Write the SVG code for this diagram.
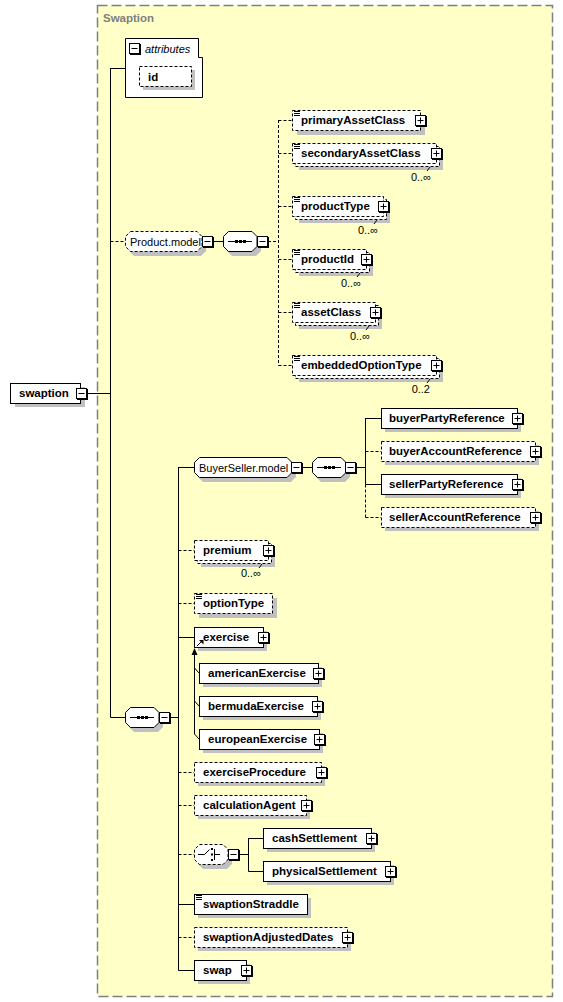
<svg xmlns="http://www.w3.org/2000/svg" width="563" height="1002" viewBox="0 0 563 1002">
<style>
.t{font-family:"Liberation Sans",Arial,sans-serif;font-size:11.5px;font-weight:bold;fill:#000}
.n{font-family:"Liberation Sans",Arial,sans-serif;font-size:11px;fill:#000}
.i{font-family:"Liberation Sans",Arial,sans-serif;font-size:11px;font-style:italic;fill:#000}
.title{font-family:"Liberation Sans",Arial,sans-serif;font-size:11.5px;font-weight:bold;fill:#808080}
.sh{fill:#C0C0C0}
.box{fill:#fff;stroke:#000;stroke-width:1}
.dash{stroke-dasharray:3,2}
.c{fill:none;stroke:#000;stroke-width:1}
.cd{fill:none;stroke:#000;stroke-width:1;stroke-dasharray:3,2}
</style>
<defs>
<g id="pb"><rect x="1" y="1" width="11" height="11" fill="#000"/><rect x="0.5" y="0.5" width="10" height="10" fill="#fff" stroke="#000"/><path d="M2.5,5.5H8.5M5.5,2.5V8.5" stroke="#000"/></g>
<g id="mb"><rect x="1" y="1" width="11" height="11" fill="#000"/><rect x="0.5" y="0.5" width="10" height="10" fill="#fff" stroke="#000"/><path d="M2.5,5.5H8.5" stroke="#000"/></g>
<path id="ln" d="M0,0.5H6M0,2.5H6M0,4.5H6" stroke="#000" fill="none"/>
</defs>

<rect x="97.5" y="5.5" width="455" height="991" fill="#FFFFC8" stroke="#808080" stroke-width="1.5" stroke-dasharray="10,4"/>
<text class="title" x="103" y="22">Swaption</text>

<g id="connectors">
<path class="c" d="M88,393.5H110.5M110.5,68V717.5M110.5,68.5H125M110.5,717.5H125"/>
<path class="cd" d="M110.5,241.5H125"/>
<path class="c" d="M213,241.5H223"/>
<path class="cd" d="M268,241.5H278.5M278.5,120V365.5M278.5,120.5H292M278.5,153.5H292M278.5,206.5H292M278.5,259.5H292M278.5,312.5H292M278.5,365.5H292"/>
<path class="c" d="M170,717.5H178.5M178.5,467V970.5M178.5,467.5H194M178.5,637.5H194M178.5,904.5H194M178.5,970.5H194"/>
<path class="cd" d="M178.5,550.5H194M178.5,603.5H194M178.5,772.5H194M178.5,805.5H194M178.5,854.5H194M178.5,937.5H194"/>
<path class="c" d="M302,467.5H312M356,467.5H365.5M365.5,418V484.5M365.5,418.5H381M365.5,484.5H381"/>
<path class="cd" d="M365.5,484.5V517.5M365.5,451.5H381M365.5,517.5H381"/>
<path class="c" d="M194.5,652V734L199,739M194.5,668L199,673M194.5,701L199,706"/>
<polygon points="191.5,655 197.5,655 194.5,648" fill="#000"/>
<path class="c" d="M239,854.5H248.5M248.5,838V871.5M248.5,838.5H263M248.5,871.5H263"/>
</g>

<g id="swaption">
<rect class="sh" x="15" y="387" width="70" height="20"/>
<rect class="box" x="10.5" y="383.5" width="70" height="20"/>
<text class="t" x="19" y="397">swaption</text>
<use href="#mb" x="76" y="388"/>
</g>

<g id="attributes">
<path d="M125.5,38.5H198.5V57.5H202.5V97.5H125.5Z" fill="#fff" stroke="#000"/>
<use href="#mb" x="129" y="43"/>
<text class="i" x="145" y="53">attributes</text>
<rect class="sh" x="143" y="70" width="52" height="20"/>
<rect class="box dash" x="139.5" y="66.5" width="52" height="20"/>
<text class="t" x="148" y="81">id</text>
</g>

<g id="product-model">
<path d="M134,240 H201 L206,245 V251 L201,256 H134 L129,251 V245 Z" class="sh"/>
<path d="M130.5,231.5 H197 L202,236.5 V246.5 L197,251.5 H130.5 L125.5,246.5 V236.5 Z" class="box dash"/>
<text class="n" x="130" y="246">Product.model</text>
<use href="#mb" x="202" y="236"/>
</g>
<g id="product-seq">
<path d="M232,240 H256 L261,245 V251 L256,256 H232 L227,251 V245 Z" class="sh"/>
<path d="M228.5,231.5 H252 L257,236.5 V246.5 L252,251.5 H228.5 L223.5,246.5 V236.5 Z" class="box"/>
<path d="M228,241.5H252" stroke="#000"/>
<rect x="235" y="240" width="3" height="3"/><rect x="239" y="240" width="3" height="3"/><rect x="243" y="240" width="3" height="3"/>
<use href="#mb" x="257" y="236"/>
</g>

<g id="primaryAssetClass">
<rect class="sh" x="297" y="115" width="128" height="20"/>
<rect class="box dash" x="292.5" y="110.5" width="128" height="20"/>
<use href="#ln" x="294" y="111"/>
<text class="t" x="301" y="124">primaryAssetClass</text>
<use href="#pb" x="415" y="115"/>
</g>
<g id="secondaryAssetClass">
<rect class="sh" x="299" y="150" width="144" height="20"/>
<rect class="box dash" x="295.5" y="146.5" width="144" height="20"/>
<rect class="box dash" x="292.5" y="143.5" width="144" height="20"/>
<use href="#ln" x="294" y="144"/>
<text class="t" x="301" y="157">secondaryAssetClass</text>
<use href="#pb" x="431" y="148"/>
<path d="M430,167L427,171" stroke="#000"/>
<text class="n" x="431" y="181" text-anchor="end">0..∞</text>
</g>
<g id="productType">
<rect class="sh" x="299" y="203" width="91" height="20"/>
<rect class="box dash" x="295.5" y="199.5" width="91" height="20"/>
<rect class="box dash" x="292.5" y="196.5" width="91" height="20"/>
<use href="#ln" x="294" y="197"/>
<text class="t" x="301" y="210">productType</text>
<use href="#pb" x="378" y="201"/>
<path d="M377,220L374,224" stroke="#000"/>
<text class="n" x="378" y="234" text-anchor="end">0..∞</text>
</g>
<g id="productId">
<rect class="sh" x="299" y="256" width="74" height="20"/>
<rect class="box dash" x="295.5" y="252.5" width="74" height="20"/>
<rect class="box dash" x="292.5" y="249.5" width="74" height="20"/>
<use href="#ln" x="294" y="250"/>
<text class="t" x="301" y="263">productId</text>
<use href="#pb" x="361" y="254"/>
<path d="M360,273L357,277" stroke="#000"/>
<text class="n" x="361" y="287" text-anchor="end">0..∞</text>
</g>
<g id="assetClass">
<rect class="sh" x="299" y="309" width="83" height="20"/>
<rect class="box dash" x="295.5" y="305.5" width="83" height="20"/>
<rect class="box dash" x="292.5" y="302.5" width="83" height="20"/>
<use href="#ln" x="294" y="303"/>
<text class="t" x="301" y="316">assetClass</text>
<use href="#pb" x="370" y="307"/>
<path d="M369,326L366,330" stroke="#000"/>
<text class="n" x="370" y="340" text-anchor="end">0..∞</text>
</g>
<g id="embeddedOptionType">
<rect class="sh" x="299" y="362" width="144" height="20"/>
<rect class="box dash" x="295.5" y="358.5" width="144" height="20"/>
<rect class="box dash" x="292.5" y="355.5" width="144" height="20"/>
<use href="#ln" x="294" y="356"/>
<text class="t" x="301" y="369">embeddedOptionType</text>
<use href="#pb" x="431" y="360"/>
<path d="M430,379L427,383" stroke="#000"/>
<text class="n" x="430" y="393" text-anchor="end">0..2</text>
</g>

<g id="buyerseller-model">
<path d="M203,466 H291 L296,471 V477 L291,482 H203 L198,477 V471 Z" class="sh"/>
<path d="M199.5,457.5 H287 L292,462.5 V472.5 L287,477.5 H199.5 L194.5,472.5 V462.5 Z" class="box"/>
<text class="n" x="199" y="472">BuyerSeller.model</text>
<use href="#mb" x="291" y="462"/>
</g>
<g id="buyerseller-seq">
<path d="M321,466 H345 L350,471 V477 L345,482 H321 L316,477 V471 Z" class="sh"/>
<path d="M317.5,457.5 H341 L346,462.5 V472.5 L341,477.5 H317.5 L312.5,472.5 V462.5 Z" class="box"/>
<path d="M317,467.5H341" stroke="#000"/>
<rect x="324" y="466" width="3" height="3"/><rect x="328" y="466" width="3" height="3"/><rect x="332" y="466" width="3" height="3"/>
<use href="#mb" x="345" y="462"/>
</g>

<g id="buyerPartyReference">
<rect class="sh" x="385" y="412" width="136" height="20"/>
<rect class="box" x="381.5" y="408.5" width="136" height="20"/>
<text class="t" x="389" y="422">buyerPartyReference</text>
<use href="#pb" x="512" y="413"/>
</g>
<g id="buyerAccountReference">
<rect class="sh" x="385" y="445" width="154" height="20"/>
<rect class="box dash" x="381.5" y="441.5" width="154" height="20"/>
<text class="t" x="389" y="455">buyerAccountReference</text>
<use href="#pb" x="530" y="446"/>
</g>
<g id="sellerPartyReference">
<rect class="sh" x="385" y="478" width="136" height="20"/>
<rect class="box" x="381.5" y="474.5" width="136" height="20"/>
<text class="t" x="389" y="488">sellerPartyReference</text>
<use href="#pb" x="512" y="479"/>
</g>
<g id="sellerAccountReference">
<rect class="sh" x="385" y="511" width="154" height="20"/>
<rect class="box dash" x="381.5" y="507.5" width="154" height="20"/>
<text class="t" x="389" y="521">sellerAccountReference</text>
<use href="#pb" x="530" y="512"/>
</g>

<g id="main-seq">
<path d="M134,716 H158 L163,721 V727 L158,732 H134 L129,727 V721 Z" class="sh"/>
<path d="M130.5,707.5 H154 L159,712.5 V722.5 L154,727.5 H130.5 L125.5,722.5 V712.5 Z" class="box"/>
<path d="M130,717.5H154" stroke="#000"/>
<rect x="137" y="716" width="3" height="3"/><rect x="141" y="716" width="3" height="3"/><rect x="145" y="716" width="3" height="3"/>
<use href="#mb" x="159" y="712"/>
</g>

<g id="premium">
<rect class="sh" x="201" y="547" width="74" height="20"/>
<rect class="box dash" x="197.5" y="543.5" width="74" height="20"/>
<rect class="box dash" x="194.5" y="540.5" width="74" height="20"/>
<text class="t" x="203" y="554">premium</text>
<use href="#pb" x="263" y="545"/>
<path d="M262,564L259,568" stroke="#000"/>
<text class="n" x="261" y="577" text-anchor="end">0..∞</text>
</g>
<g id="optionType">
<rect class="sh" x="199" y="598" width="78" height="20"/>
<rect class="box dash" x="194.5" y="593.5" width="78" height="20"/>
<use href="#ln" x="196" y="594"/>
<text class="t" x="203" y="607">optionType</text>
</g>
<g id="exercise">
<rect class="sh" x="198" y="631" width="69" height="20"/>
<rect class="box" x="194.5" y="627.5" width="69" height="20"/>
<text class="t" x="203" y="641">exercise</text>
<path d="M197,646L201,642" stroke="#000"/>
<polygon points="199,640 203.5,640 203.5,644.5" fill="#000"/>
<use href="#pb" x="258" y="632"/>
</g>
<g id="americanExercise">
<rect class="sh" x="203" y="667" width="119" height="20"/>
<rect class="box" x="199.5" y="663.5" width="119" height="20"/>
<text class="t" x="208" y="677">americanExercise</text>
<use href="#pb" x="313" y="668"/>
</g>
<g id="bermudaExercise">
<rect class="sh" x="203" y="700" width="118" height="20"/>
<rect class="box" x="199.5" y="696.5" width="118" height="20"/>
<text class="t" x="208" y="710">bermudaExercise</text>
<use href="#pb" x="312" y="701"/>
</g>
<g id="europeanExercise">
<rect class="sh" x="203" y="733" width="120" height="20"/>
<rect class="box" x="199.5" y="729.5" width="120" height="20"/>
<text class="t" x="208" y="743">europeanExercise</text>
<use href="#pb" x="314" y="734"/>
</g>
<g id="exerciseProcedure">
<rect class="sh" x="198" y="766" width="127" height="20"/>
<rect class="box dash" x="194.5" y="762.5" width="127" height="20"/>
<text class="t" x="203" y="776">exerciseProcedure</text>
<use href="#pb" x="316" y="767"/>
</g>
<g id="calculationAgent">
<rect class="sh" x="198" y="799" width="112" height="20"/>
<rect class="box dash" x="194.5" y="795.5" width="112" height="20"/>
<text class="t" x="203" y="809">calculationAgent</text>
<use href="#pb" x="301" y="800"/>
</g>
<g id="choice">
<path d="M203,853 H227 L232,858 V864 L227,869 H203 L198,864 V858 Z" class="sh"/>
<path d="M199.5,844.5 H223 L228,849.5 V859.5 L223,864.5 H199.5 L194.5,859.5 V849.5 Z" class="box dash"/>
<path d="M198,854.5H204.5L209.5,849.5M214.5,849V860M214.5,854.5H220" stroke="#000" fill="none"/>
<rect x="211" y="848" width="2" height="2"/><rect x="211" y="853.5" width="2" height="2"/><rect x="211" y="859" width="2" height="2"/>
<use href="#mb" x="228" y="849"/>
</g>
<g id="cashSettlement">
<rect class="sh" x="267" y="832" width="108" height="20"/>
<rect class="box" x="263.5" y="828.5" width="108" height="20"/>
<text class="t" x="272" y="842">cashSettlement</text>
<use href="#pb" x="366" y="833"/>
</g>
<g id="physicalSettlement">
<rect class="sh" x="267" y="865" width="127" height="20"/>
<rect class="box" x="263.5" y="861.5" width="127" height="20"/>
<text class="t" x="272" y="875">physicalSettlement</text>
<use href="#pb" x="385" y="866"/>
</g>
<g id="swaptionStraddle">
<rect class="sh" x="198" y="898" width="113" height="20"/>
<rect class="box" x="194.5" y="894.5" width="113" height="20"/>
<use href="#ln" x="196" y="895"/>
<text class="t" x="203" y="908">swaptionStraddle</text>
</g>
<g id="swaptionAdjustedDates">
<rect class="sh" x="198" y="931" width="153" height="20"/>
<rect class="box dash" x="194.5" y="927.5" width="153" height="20"/>
<text class="t" x="203" y="941">swaptionAdjustedDates</text>
<use href="#pb" x="342" y="932"/>
</g>
<g id="swap">
<rect class="sh" x="198" y="964" width="52" height="20"/>
<rect class="box" x="194.5" y="960.5" width="52" height="20"/>
<text class="t" x="203" y="974">swap</text>
<use href="#pb" x="241" y="965"/>
</g>
</svg>
